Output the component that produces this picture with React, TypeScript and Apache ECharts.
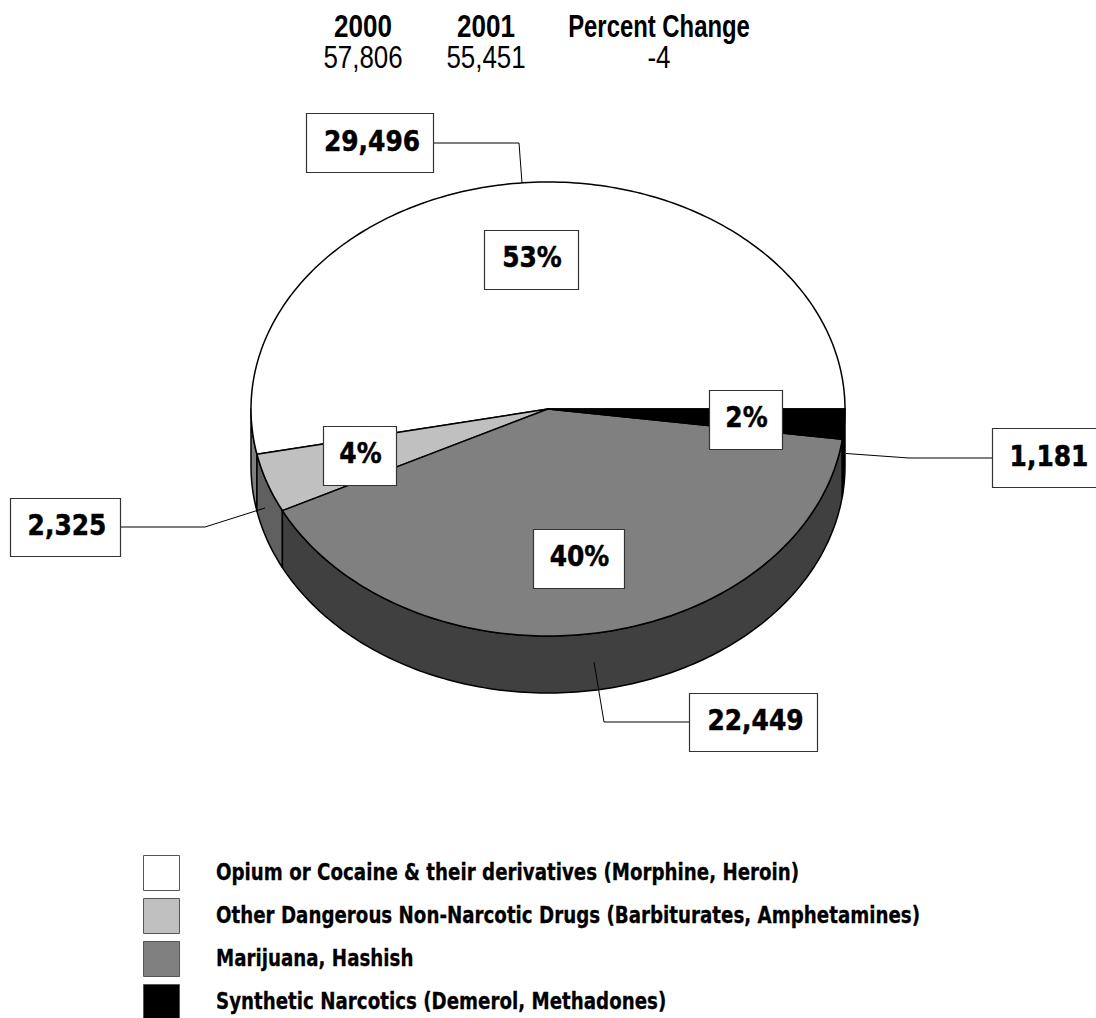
import React, { useEffect, useRef } from "react";
import * as echarts from "echarts";

const sliceNames = [
  "Opium or Cocaine & their derivatives (Morphine, Heroin)",
  "Other Dangerous Non-Narcotic Drugs (Barbiturates, Amphetamines)",
  "Marijuana, Hashish",
  "Synthetic Narcotics (Demerol, Methadones)",
];
const sliceValues = [29496, 2325, 22449, 1181];
const topColors = ["#ffffff", "#c0c0c0", "#808080", "#000000"];
const wallColors = ["#808080", "#606060", "#404040", "#000000"];

const headerTitles = ["2000", "2001", "Percent Change"];
const headerValues = ["57,806", "55,451", "-4"];
const headerCenters = [363, 486, 659];
const headerTitleScale = [0.84, 0.84, 0.77];

const CX = 548, CY = 409, RX = 297, RY = 227, DEPTH = 57;

// callout layout, in slice order: value box, its leader, percent box
const valueBoxes = [
  [306, 113, 127, 59], [10, 498, 110, 58], [689, 693, 128, 58], [992, 428, 110, 59],
];
const valueTextX = [372, 67, 755.5, 1049];
const leaders = [
  [[433, 143], [519, 143], [522, 183]],
  [[120, 527], [205, 527], [265, 508]],
  [[689, 722], [604, 722], [594, 662]],
  [[992, 458], [909, 458], [846, 453.5]],
];
const pctBoxes = [
  [484, 230, 94, 59], [323, 426, 73, 59], [533, 529, 91, 59], [709, 390, 73, 59],
];
const legendSwatchY = [855, 898, 941, 984];

const total = sliceValues.reduce((a, b) => a + b, 0);
// slices run counter-clockwise on screen from the 3 o'clock position
function sliceRange(i: number): [number, number] {
  let before = 0;
  for (let k = 0; k < i; k++) before += sliceValues[k];
  const s = (before / total) * 2 * Math.PI;
  const e = ((before + sliceValues[i]) / total) * 2 * Math.PI;
  return [s, e];
}
function arcPoints(a0: number, a1: number, dy = 0): number[][] {
  const n = Math.max(2, Math.ceil(Math.abs(a1 - a0) / (Math.PI / 180)));
  const pts: number[][] = [];
  for (let k = 0; k <= n; k++) {
    const t = a0 + ((a1 - a0) * k) / n;
    pts.push([CX + RX * Math.cos(t), CY - RY * Math.sin(t) + dy]);
  }
  return pts;
}
// part of the slice rim that faces the viewer (lower half of the ellipse)
function wallRange(a0: number, a1: number): [number, number] | null {
  const lo = Math.max(a0, Math.PI);
  const hi = Math.min(a1, 2 * Math.PI);
  return hi > lo ? [lo, hi] : null;
}

function renderSlice(params: any) {
  const i = params.dataIndex;
  const [a0, a1] = sliceRange(i);
  const children: any[] = [];
  const w = wallRange(a0, a1);
  if (w) {
    const top = arcPoints(w[0], w[1]);
    const bot = arcPoints(w[0], w[1], DEPTH).reverse();
    children.push({
      type: "polygon",
      shape: { points: top.concat(bot) },
      style: { fill: wallColors[i], stroke: "#000", lineWidth: 1.5, lineJoin: "round" },
    });
  }
  children.push({
    type: "polygon",
    shape: { points: [[CX, CY]].concat(arcPoints(a0, a1)) },
    style: { fill: topColors[i], stroke: "#000", lineWidth: 1.5, lineJoin: "round" },
  });
  return { type: "group", children };
}

const VALUE_FONT = "bold 29px 'DejaVu Sans'";
const fmt = (v: number) => v.toLocaleString("en-US");

function label(
  text: string, x: number, y: number, font: string, scaleX: number,
  align = "center", heavy = 0,
) {
  return {
    type: "text", x, y, scaleX, z: 100,
    style: {
      text, font, fill: "#000", align, verticalAlign: "middle",
      textAlign: align, textVerticalAlign: "middle",
      stroke: heavy ? "#000" : undefined, lineWidth: heavy,
    },
  };
}
function box(b: number[]) {
  return {
    type: "rect", z: 99,
    shape: { x: b[0] + 0.5, y: b[1] + 0.5, width: b[2], height: b[3] },
    style: { fill: "#fff", stroke: "#333", lineWidth: 1.2 },
  };
}

function buildGraphics() {
  const g: any[] = [];
  headerTitles.forEach((t, i) => {
    g.push(label(t, headerCenters[i], 26, "bold 31px 'Liberation Sans'", headerTitleScale[i]));
    g.push(label(headerValues[i], headerCenters[i], 57, "32px 'Liberation Sans'", 0.81));
  });
  leaders.forEach((pts) => {
    g.push({
      type: "polyline", z: 98,
      shape: { points: pts },
      style: { fill: "none", stroke: "#000", lineWidth: 1 },
    });
  });
  sliceValues.forEach((v, i) => {
    const vb = valueBoxes[i];
    g.push(box(vb));
    g.push(label(fmt(v), valueTextX[i], vb[1] + vb[3] / 2 - 2, VALUE_FONT, 0.86, "center", 0.5));
    const pb = pctBoxes[i];
    g.push(box(pb));
    g.push(label(Math.round((v / total) * 100) + "%", pb[0] + pb[2] / 2 + 1, pb[1] + pb[3] / 2 - 3, VALUE_FONT, 0.86, "center", 0.5));
    g.push({
      type: "rect", z: 99,
      shape: { x: 143.5, y: legendSwatchY[i] + 0.5, width: 36, height: 35 },
      style: { fill: topColors[i], stroke: "#555", lineWidth: 1 },
    });
    g.push(label(sliceNames[i], 216, legendSwatchY[i] + 17, "bold 23px 'DejaVu Sans'", 0.794, "left", 0.3));
  });
  return g;
}

export default function App() {
  const ref = useRef<HTMLDivElement>(null);
  useEffect(() => {
    const chart = echarts.init(ref.current!, undefined, { renderer: "svg" });
    chart.setOption({
      animation: false,
      backgroundColor: "#fff",
      series: [
        {
          type: "custom",
          coordinateSystem: "none",
          silent: true,
          data: sliceValues.map((v, i) => ({ name: sliceNames[i], value: [v] })),
          renderItem: renderSlice,
        },
      ],
      graphic: { elements: buildGraphics() },
    });
    return () => chart.dispose();
  }, []);
  return (
    <div
      ref={ref}
      style={{ position: "absolute", left: 0, top: 0, width: 1096, height: 1018, overflow: "hidden" }}
    />
  );
}
